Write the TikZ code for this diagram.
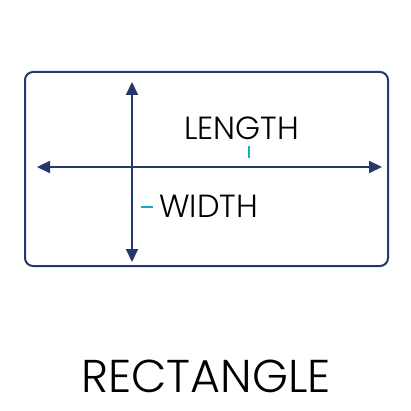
\documentclass[tikz,border=0pt]{standalone}
\usepackage{fontspec}
\setmainfont{Poppins}[UprightFont=* Light]
\usetikzlibrary{arrows.meta}
\definecolor{navy}{HTML}{24386B}
\definecolor{cyanmark}{HTML}{1BA8C4}
\tikzset{
  dim/.style={draw=navy, line width=2pt, {Triangle[length=13pt,width=12pt]}-{Triangle[length=13pt,width=12pt]}},
  tick/.style={draw=cyanmark, line width=2pt},
  lbl/.style={inner sep=0pt, text=black, font=\fontsize{32}{32}\selectfont, anchor=base west},
}
\begin{document}
\begin{tikzpicture}[x=1pt,y=-1pt]
\useasboundingbox (0,0) rectangle (411,411);
\draw[navy, line width=2pt, rounded corners=8pt] (25,72) rectangle (388,266);
\coordinate (vt) at (132,82);
\coordinate (vb) at (132,262);
\coordinate (hl) at (37,167);
\coordinate (hr) at (382,167);
\draw[dim] (vt) -- (vb);
\draw[dim] (hl) -- (hr);
\node[lbl] (len) at (184,140) {LENGTH};
\node[lbl] (wid) at (159,218) {WIDTH};
\coordinate (t1) at (249,146);
\coordinate (t2) at (249,158);
\draw[tick] (t1) -- (t2);
\coordinate (d1) at (141,207);
\coordinate (d2) at (153,207);
\draw[tick] (d1) -- (d2);
\node[inner sep=0pt, anchor=base, font=\fontsize{46}{46}\selectfont] (title) at (206,392) {RECTANGLE};
\end{tikzpicture}
\end{document}
